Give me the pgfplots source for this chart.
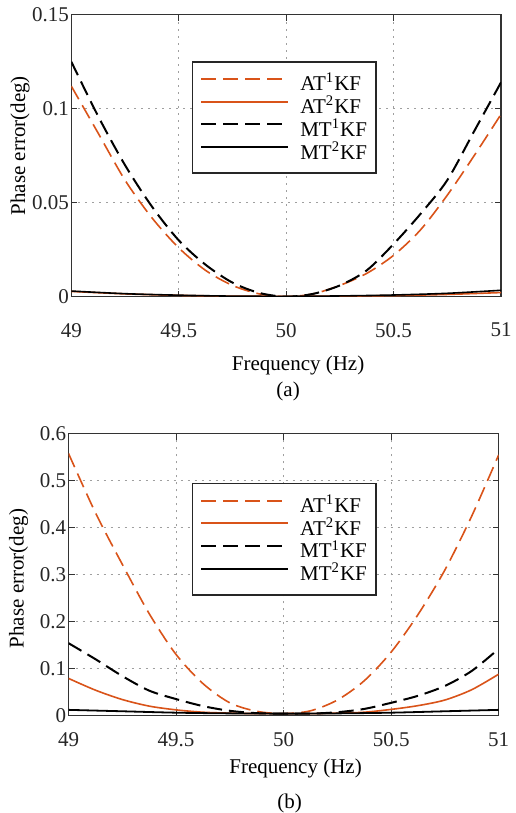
\documentclass[border=0pt]{standalone}
\usepackage{fontspec}
\setmainfont{Liberation Serif}
\usepackage{pgfplots}
\pgfplotsset{compat=1.18}
\definecolor{morange}{RGB}{217,83,25}

\pgfplotsset{
  phaseaxis/.style={
    scale only axis, anchor=south west, clip mode=individual,
    xmin=49, xmax=51,
    xtick={49,49.5,50,50.5,51}, xticklabels={49,49.5,50,50.5,51},
    tick align=inside, major tick length=3pt,
    grid=major,
    major grid style={gray!75, dash pattern=on 1pt off 2.5pt, line width=0.45pt},
    axis line style={black!80, line width=0.7pt},
    tick style={black!80, line width=0.5pt},
    every tick label/.append style={text=black!85},
    yticklabel style={inner xsep=1pt},
    ylabel={Phase error(deg)},
    xlabel={Frequency (Hz)},
    legend cell align=left,
    legend image code/.code={\draw[##1, line width=1pt] (3pt,2.3pt) -- (46.5pt,2.3pt);},
    legend style={anchor=north west, draw=black!85, line width=0.7pt, fill=white,
      column sep=5pt, inner xsep=4pt, inner ysep=5.5pt, row sep=1pt,
      nodes={inner xsep=0.5pt, inner ysep=0pt}},
  },
  dash1/.style={dash pattern=on 7.5pt off 3.5pt},
}

\begin{document}
\fontsize{10.5}{12.6}\selectfont
\begin{tikzpicture}
\useasboundingbox (0,0) rectangle (257.5pt,406.5pt);

% (a)
\begin{axis}[phaseaxis,
  at={(35.65pt,258.15pt)}, width=214.85pt, height=141pt,
  ymin=0, ymax=0.15,
  ytick={0,0.05,0.1,0.15}, yticklabels={0,0.05,0.1,0.15},
  xticklabel style={yshift=-9.5pt},
  ylabel style={at={(axis description cs:-0.119,0.535)}, anchor=center},
  xlabel style={at={(axis description cs:0.5,0)}, anchor=base, yshift=-37pt, xshift=6pt},
  legend style={at={(rel axis cs:0.28,0.835)}},
]
\addplot[morange, line width=0.8pt, dash1, smooth] coordinates {
(49,0.112)(49.125,0.087)(49.25,0.062)(49.375,0.042)(49.5,0.026)(49.625,0.014)
(49.75,0.006)(49.875,0.0015)(50,0.0)(50.125,0.0015)(50.25,0.006)(50.375,0.0124)
(50.5,0.022)(50.625,0.0355)(50.75,0.054)(50.875,0.075)(51,0.097)};
\addplot[morange, line width=0.8pt, smooth] coordinates {
(49,0.0028)(49.25,0.0015)(49.5,0.0007)(49.75,0.0003)(50,0.0002)(50.25,0.0003)
(50.5,0.0006)(50.75,0.0012)(51,0.0022)};
\addplot[black, line width=1pt, dash1, smooth] coordinates {
(49,0.125)(49.125,0.096)(49.25,0.070)(49.375,0.048)(49.5,0.030)(49.625,0.017)
(49.75,0.0075)(49.875,0.002)(50,0.0)(50.125,0.0015)(50.25,0.006)(50.375,0.014)
(50.5,0.028)(50.625,0.044)(50.75,0.062)(50.875,0.088)(51,0.114)};
\addplot[black, line width=0.8pt, smooth] coordinates {
(49,0.003)(49.25,0.0016)(49.5,0.0008)(49.75,0.0003)(50,0.0002)(50.25,0.0004)
(50.5,0.0009)(50.75,0.0018)(51,0.0034)};
\legend{AT\textsuperscript{1}KF,AT\textsuperscript{2}KF,MT\textsuperscript{1}KF,MT\textsuperscript{2}KF}
\node[anchor=base, xshift=1pt, yshift=-50pt] at (axis description cs:0.5,0) {(a)};
\end{axis}

% (b)
\begin{axis}[phaseaxis,
  at={(34.25pt,48.75pt)}, width=215.1pt, height=140.9pt,
  ymin=0, ymax=0.6,
  ytick={0,0.1,0.2,0.3,0.4,0.5,0.6}, yticklabels={0,0.1,0.2,0.3,0.4,0.5,0.6},
  xticklabel style={yshift=-5pt},
  ylabel style={at={(axis description cs:-0.116,0.486)}, anchor=center},
  xlabel style={at={(axis description cs:0.5,0)}, anchor=base, yshift=-29pt, xshift=6pt},
  legend style={at={(rel axis cs:0.286,0.825)}},
]
\addplot[morange, line width=0.8pt, dash1, smooth] coordinates {
(49,0.558)(49.125,0.432)(49.25,0.322)(49.375,0.217)(49.5,0.13)(49.625,0.068)
(49.75,0.027)(49.875,0.009)(50,0.004)(50.125,0.01)(50.25,0.033)(50.375,0.074)
(50.5,0.135)(50.625,0.215)(50.75,0.31)(50.875,0.425)(51,0.555)};
\addplot[morange, line width=0.8pt, smooth] coordinates {
(49,0.079)(49.125,0.054)(49.25,0.034)(49.375,0.02)(49.5,0.012)(49.625,0.007)
(49.75,0.005)(49.875,0.004)(50,0.004)(50.125,0.004)(50.25,0.005)(50.375,0.007)
(50.5,0.013)(50.625,0.021)(50.75,0.033)(50.875,0.055)(51,0.088)};
\addplot[black, line width=1pt, dash1, smooth] coordinates {
(49,0.154)(49.125,0.12)(49.25,0.084)(49.375,0.053)(49.5,0.035)(49.625,0.02)
(49.75,0.01)(49.875,0.005)(50,0.004)(50.125,0.004)(50.25,0.007)(50.375,0.014)
(50.5,0.027)(50.625,0.042)(50.75,0.063)(50.875,0.095)(51,0.142)};
\addplot[black, line width=0.9pt, smooth] coordinates {
(49,0.012)(49.25,0.009)(49.5,0.006)(49.75,0.0045)(50,0.004)(50.25,0.0045)
(50.5,0.006)(50.75,0.009)(51,0.012)};
\legend{AT\textsuperscript{1}KF,AT\textsuperscript{2}KF,MT\textsuperscript{1}KF,MT\textsuperscript{2}KF}
\node[anchor=base, xshift=3pt, yshift=-46.5pt] at (axis description cs:0.5,0) {(b)};
\end{axis}
\end{tikzpicture}
\end{document}
